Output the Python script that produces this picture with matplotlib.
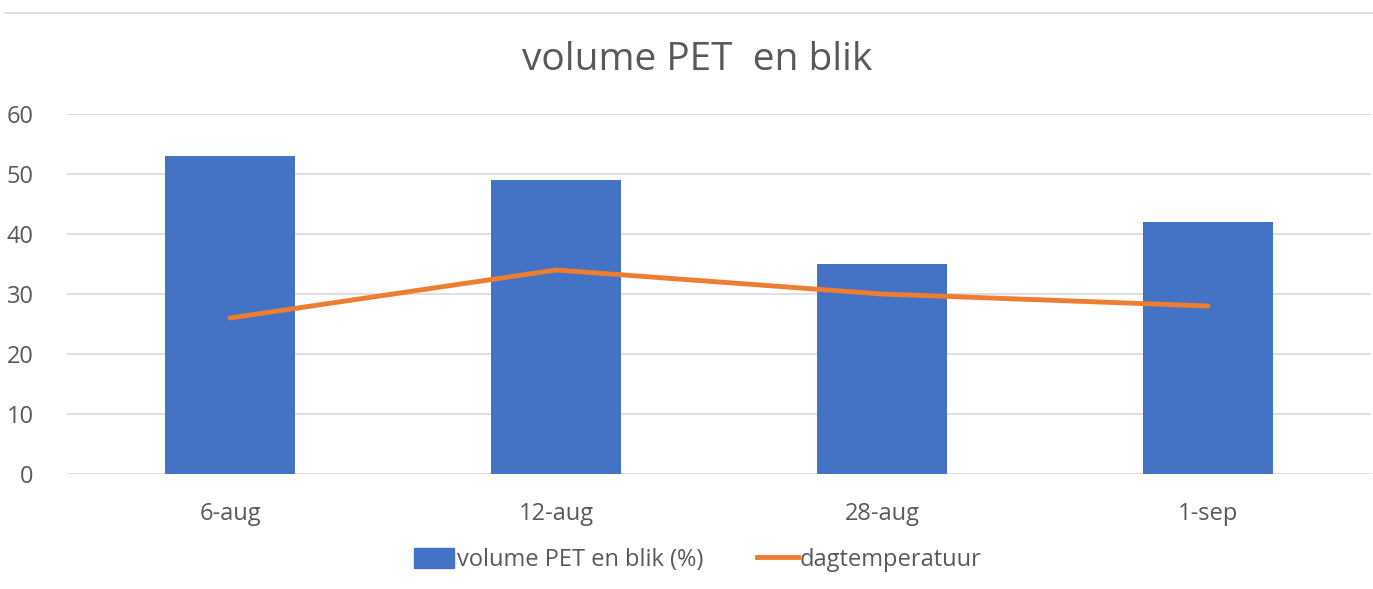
import numpy as np
import matplotlib
matplotlib.use('Agg')
import matplotlib.pyplot as plt
from matplotlib.patches import Patch
from matplotlib.lines import Line2D

## data
datums = ['6-aug', '12-aug', '28-aug', '1-sep']
volume = [53, 49, 35, 42]          # volume PET en blik (%)
temperatuur = [26, 34, 30, 28]     # dagtemperatuur

blauw = '#4472C4'
oranje = '#ED7D31'
grijs = '#595959'

plt.rcParams['font.family'] = ['Open Sans', 'DejaVu Sans']

fig = plt.figure(figsize=(13.73, 5.89), dpi=100)
ax = fig.add_axes([67/1373, 1-474/589, (1371-67)/1373, (474-114)/589])

x = np.arange(len(datums))
ax.bar(x, volume, width=0.4, color=blauw, zorder=2)
ax.plot(x, temperatuur, color=oranje, linewidth=3.5, solid_capstyle='round', zorder=3)

ax.set_xlim(-0.5, len(datums) - 0.5)
ax.set_ylim(0, 60)
ax.set_yticks(range(0, 61, 10))
ax.set_xticks(x)
ax.set_xticklabels(datums)
ax.grid(axis='y', color='#D9D9D9', linewidth=1.2, zorder=0)
for s in ax.spines.values():
    s.set_visible(False)
ax.tick_params(length=0, colors=grijs, labelsize=17)
ax.tick_params(axis='y', pad=24)
ax.tick_params(axis='x', pad=20)

fig.text(697/1373, 1-60/589, 'volume PET  en blik', ha='center', va='center', fontsize=28, color=grijs)

# dunne rand bovenaan
fig.add_artist(Line2D([5/1373, 1], [1-13/589, 1-13/589], color='#D9D9D9', linewidth=1.2))

handles = [Patch(color=blauw), Line2D([], [], color=oranje, linewidth=3.5)]
labels = ['volume PET en blik (%)', 'dagtemperatuur']
leg = fig.legend(handles, labels, loc='center', bbox_to_anchor=(698/1373, 1-560/589), ncol=2,
                 frameon=False, fontsize=17, handlelength=1.7, handleheight=0.9,
                 handletextpad=0.1, columnspacing=2.3)
for t in leg.get_texts():
    t.set_color(grijs)

fig.savefig('out.png', dpi=100)
